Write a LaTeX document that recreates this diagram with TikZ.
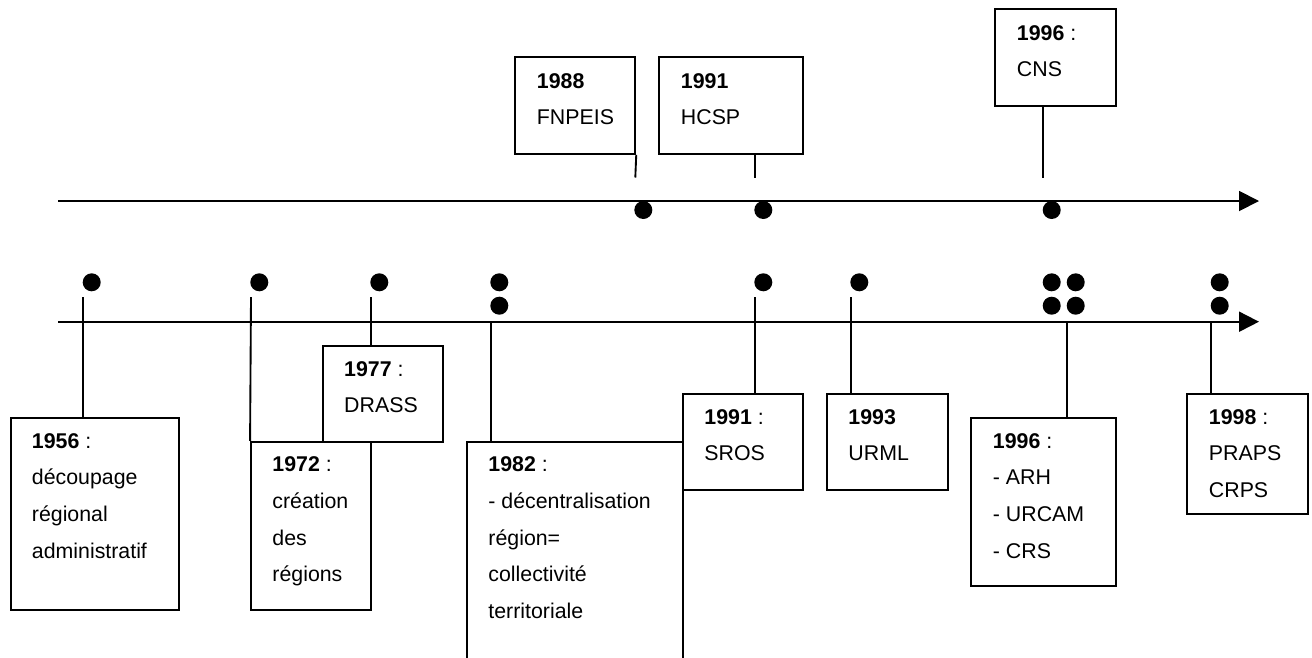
\documentclass[tikz,border=0pt]{standalone}
\usepackage{fontspec}
\setmainfont{Liberation Sans}
\usetikzlibrary{arrows.meta,fit}

\newcommand{\evtxt}[1]{\parbox[t]{6cm}{\fontsize{16}{27.5}\selectfont #1}}

\begin{document}
\begin{tikzpicture}[x=0.75pt, y=-0.75pt, line width=1.4pt,
  evbox/.style={draw, inner sep=0pt},
  evtext/.style={anchor=base west, inner sep=0pt},
  dot/.style={circle, fill, inner sep=0pt, minimum size=13.5pt},
  axis/.style={-{Triangle[length=15pt, width=15pt]}}]
\useasboundingbox (0,0) rectangle (1312,657);
\clip (0,0) rectangle (1312,657);

% the two time axes
\coordinate (top0) at (58,201);
\coordinate (top1) at (1259,201);
\draw[axis] (top0) -- (top1);
\coordinate (bot0) at (58,321.7);
\coordinate (bot1) at (1259,321.7);
\draw[axis] (bot0) -- (bot1);

% upper axis
\node[dot] (d88) at (643.3,210) {};
\node[dot] (d91h) at (763.3,210) {};
\node[dot] (d96c) at (1051.7,210) {};

\node[evbox, fit={(514.7,57.3) (635.3,154)}] (b88) {};
\node[evtext] (t88) at (536,88) {\evtxt{\textbf{1988}\\FNPEIS}};
\coordinate (c88) at (635.3,177.5);
\draw (b88.south east) -- (c88);

\node[evbox, fit={(659,57.3) (803.3,154)}] (b91h) {};
\node[evtext] (t91h) at (680,88) {\evtxt{\textbf{1991}\\HCSP}};
\coordinate (c91h) at (755.3,177.5);
\draw (c91h |- b91h.south) -- (c91h);

\node[evbox, fit={(995,9.3) (1115.7,106)}] (b96c) {};
\node[evtext] (t96c) at (1016,40) {\evtxt{\textbf{1996} :\\CNS}};
\coordinate (c96c) at (1043.3,177.5);
\draw (c96c |- b96c.south) -- (c96c);

% lower axis
\node[dot] (d56) at (91.7,282.3) {};
\node[dot] (d72) at (259.3,282.3) {};
\node[dot] (d77) at (379.3,282.3) {};
\node[dot] (d82a) at (499.3,282.3) {};
\node[dot] (d82b) at (499.3,305.7) {};
\node[dot] (d91) at (763.3,282.3) {};
\node[dot] (d93) at (859.3,282.3) {};
\node[dot] (d96a) at (1051.7,282.3) {};
\node[dot] (d96b) at (1075.7,282.3) {};
\node[dot] (d96c2) at (1051.7,305.7) {};
\node[dot] (d96d) at (1075.7,305.7) {};
\node[dot] (d98a) at (1219.7,282.3) {};
\node[dot] (d98b) at (1219.7,305.7) {};

\node[evbox, fit={(11,418) (179.3,610)}] (b56) {};
\node[evtext] (t56) at (31,448) {\evtxt{\textbf{1956} :\\découpage\\régional\\administratif}};
\coordinate (c56) at (83,297);
\draw (c56) -- (c56 |- b56.north);

\node[evbox, fit={(251,441.7) (371,610)}] (b72) {};
\node[evtext] (t72) at (271.5,471.7) {\evtxt{\textbf{1972} :\\création\\des\\régions}};
\coordinate (c72) at (251,297);
\draw (c72) -- (b72.north west);

\node[evbox, fit={(323,346) (443.3,441.7)}] (b77) {};
\node[evtext] (t77) at (343.3,376) {\evtxt{\textbf{1977} :\\DRASS}};
\coordinate (c77) at (371,297);
\draw (c77) -- (c77 |- b77.north);

\node[evbox, fit={(467,441.7) (682.7,700)}] (b82) {};
\node[evtext] (t82) at (487.5,471.7) {\evtxt{\textbf{1982} :\\- décentralisation\\région=\\collectivité\\territoriale}};
\coordinate (c82) at (491.3,321.7);
\draw (c82) -- (c82 |- b82.north);

\node[evbox, fit={(682.7,393.7) (803.3,489.7)}] (b91) {};
\node[evtext] (t91) at (703.5,424) {\evtxt{\textbf{1991} :\\SROS}};
\coordinate (c91) at (755.3,297);
\draw (c91) -- (c91 |- b91.north);

\node[evbox, fit={(827,393.7) (947.7,489.7)}] (b93) {};
\node[evtext] (t93) at (847.5,424) {\evtxt{\textbf{1993}\\URML}};
\coordinate (c93) at (851,297);
\draw (c93) -- (c93 |- b93.north);

\node[evbox, fit={(970.7,418) (1115.7,585.7)}] (b96) {};
\node[evtext] (t96) at (992,448) {\evtxt{\textbf{1996} :\\- ARH\\- URCAM\\- CRS}};
\coordinate (c96) at (1067.3,321.7);
\draw (c96) -- (c96 |- b96.north);

\node[evbox, fit={(1186.7,393.7) (1307.7,514)}] (b98) {};
\node[evtext] (t98) at (1208,424) {\evtxt{\textbf{1998} :\\PRAPS\\CRPS}};
\coordinate (c98) at (1211,321.7);
\draw (c98) -- (c98 |- b98.north);
\end{tikzpicture}
\end{document}
